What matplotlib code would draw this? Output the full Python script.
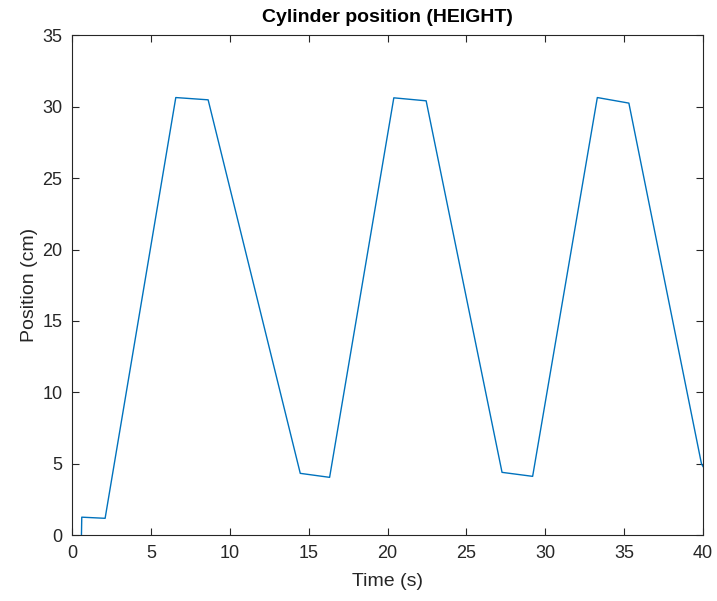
import matplotlib.pyplot as plt
import numpy as np

# cylinder height over time (breakpoints of the logged trace)
time_s = [0.6, 0.62, 2.1, 6.58, 8.63, 14.47, 16.33, 20.4, 22.45, 27.26, 29.2, 33.3, 35.3, 39.9, 40.0]
position_cm = [0.0, 1.25, 1.17, 30.65, 30.49, 4.32, 4.04, 30.63, 30.42, 4.39, 4.11, 30.65, 30.26, 5.0, 4.8]

x_ticks = np.arange(0, 41, 5)
y_ticks = np.arange(0, 36, 5)

plt.rcParams['font.family'] = ['Liberation Sans', 'DejaVu Sans']

fig = plt.figure(figsize=(7.17, 6.01), dpi=100)
ax = fig.add_axes([0.1004, 0.1098, 0.8801, 0.8312])
ax.plot(time_s, position_cm, color='#0072BD', lw=1.0)

ax.set_xlim(0, 40)
ax.set_ylim(0, 35)
ax.set_xticks(x_ticks)
ax.set_yticks(y_ticks)
ax.tick_params(direction='in', top=True, right=True, labelsize=13, length=5,
               colors='#262626', width=0.8, pad=7)
for s in ax.spines.values():
    s.set_color('#262626')
    s.set_linewidth(0.8)

ax.set_title('Cylinder position (HEIGHT)', fontsize=14, fontweight='bold', pad=10)
ax.set_xlabel('Time (s)', fontsize=14, color='#262626', labelpad=8)
ax.set_ylabel('Position (cm)', fontsize=14, color='#262626', labelpad=3)

fig.savefig('out.png', dpi=100)
